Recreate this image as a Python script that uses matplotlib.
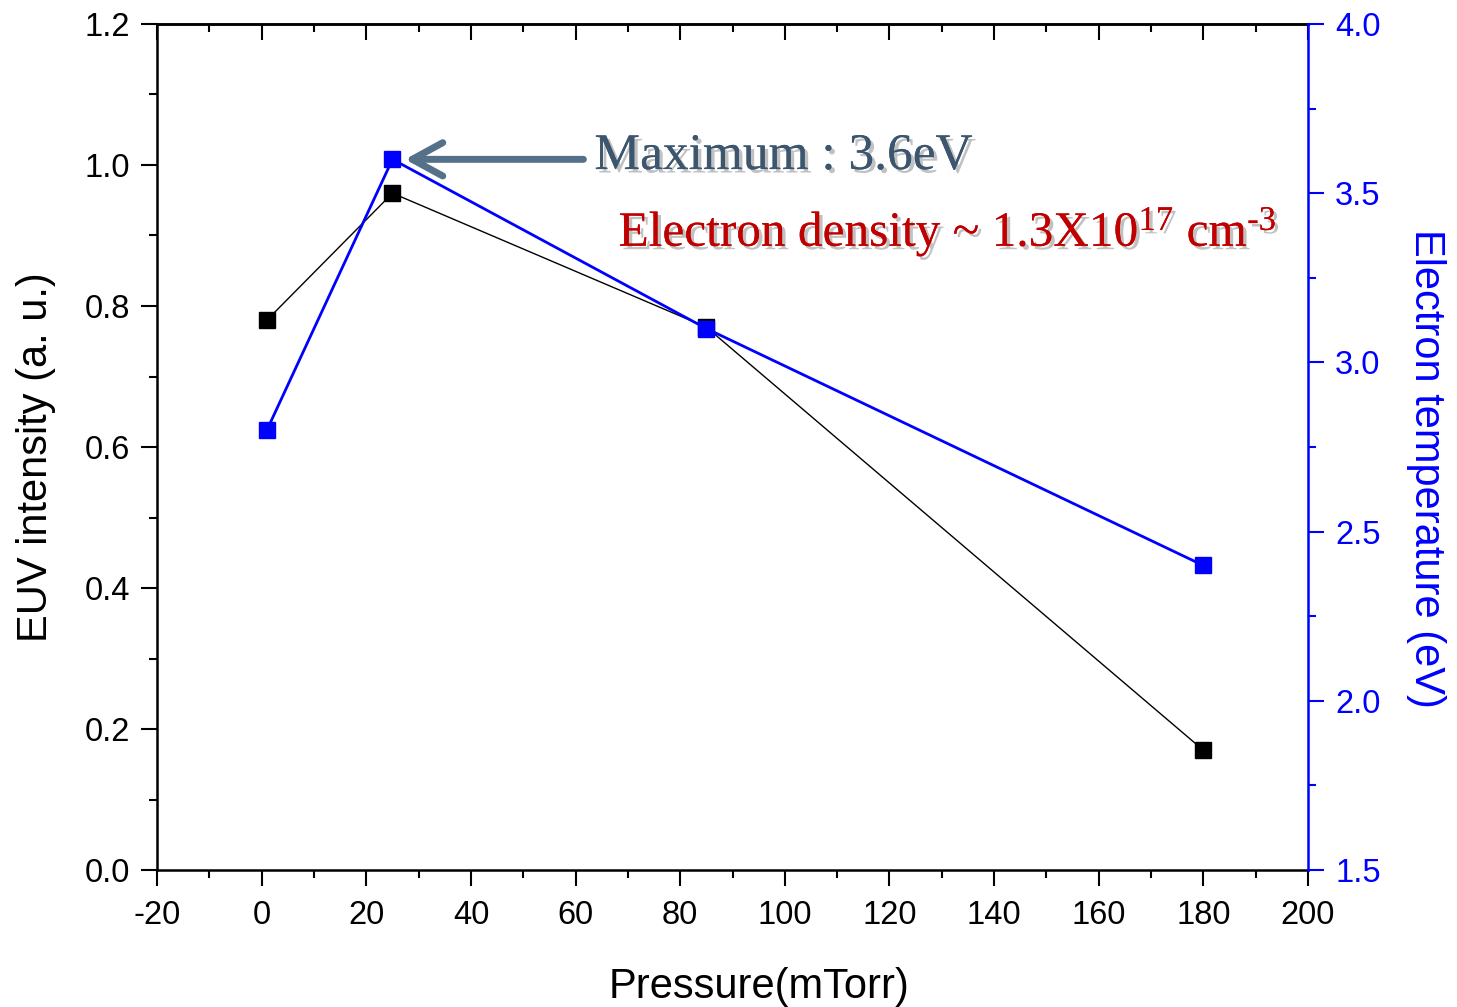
import matplotlib
matplotlib.use("Agg")
import matplotlib.pyplot as plt
import matplotlib.patheffects as pe
from matplotlib.ticker import MultipleLocator, FormatStrFormatter

pressure = [1, 25, 85, 180]
euv_intensity = [0.78, 0.96, 0.77, 0.17]
electron_temp = [2.80, 3.60, 3.10, 2.40]

plt.rcParams['font.family'] = ['Liberation Sans', 'DejaVu Sans']
plt.rcParams['axes.unicode_minus'] = False
plt.rcParams['mathtext.fontset'] = 'custom'
plt.rcParams['mathtext.rm'] = 'Liberation Serif'
plt.rcParams['mathtext.it'] = 'Liberation Serif:italic'
plt.rcParams['mathtext.bf'] = 'Liberation Serif:bold'

fig = plt.figure(figsize=(14.57, 10.07), dpi=100)
ax = fig.add_axes([0.1078, 0.1360, 0.7899, 0.8402])
ax2 = ax.twinx()

blue = '#0000ff'

ax.plot(pressure, euv_intensity, color='black', lw=1.0, marker='s', ms=11.5,
        mfc='black', mec='black', zorder=3)
ax2.plot(pressure, electron_temp, color=blue, lw=2.0, marker='s', ms=11.5,
         mfc=blue, mec=blue, zorder=3)

ax.set_xlim(-20, 200)
ax.set_ylim(0, 1.2)
ax2.set_ylim(1.5, 4.0)

ax.xaxis.set_major_locator(MultipleLocator(20))
ax.xaxis.set_minor_locator(MultipleLocator(10))
ax.yaxis.set_major_locator(MultipleLocator(0.2))
ax.yaxis.set_minor_locator(MultipleLocator(0.1))
ax2.yaxis.set_major_locator(MultipleLocator(0.5))
ax2.yaxis.set_minor_locator(MultipleLocator(0.25))

ax.yaxis.set_major_formatter(FormatStrFormatter('%.1f'))
ax2.yaxis.set_major_formatter(FormatStrFormatter('%.1f'))

lw_sp = 1.8
for s in ['left', 'bottom', 'top']:
    ax.spines[s].set_linewidth(lw_sp)
ax.spines['right'].set_visible(False)
for s in ['left', 'bottom', 'top']:
    ax2.spines[s].set_visible(False)
ax2.spines['right'].set_linewidth(lw_sp)
ax2.spines['right'].set_color(blue)

ax.tick_params(axis='both', which='major', direction='out', length=11.5, width=1.5,
               labelsize=23.5)
ax.tick_params(axis='x', which='major', pad=10)
ax.tick_params(axis='y', which='major', pad=8)
ax.tick_params(axis='both', which='minor', direction='out', length=6, width=1.5)
ax.tick_params(axis='x', top=False)
ax2.tick_params(axis='y', which='major', direction='out', length=11.5, width=1.5,
                labelsize=23.5, colors=blue, pad=8)
ax2.tick_params(axis='y', which='minor', direction='out', length=6, width=1.5, colors=blue)

sec = ax.secondary_xaxis('top')
sec.xaxis.set_major_locator(MultipleLocator(20))
sec.xaxis.set_minor_locator(MultipleLocator(10))
sec.tick_params(which='major', direction='in', length=11.5, width=1.5, labeltop=False)
sec.tick_params(which='minor', direction='in', length=6, width=1.5)
sec.spines['top'].set_linewidth(lw_sp)

ax.set_xlabel('Pressure(mTorr)', fontsize=30)
ax.xaxis.set_label_coords(0.523, -0.114)
ax.set_ylabel('EUV intensity (a. u.)', fontsize=30)
ax.yaxis.set_label_coords(-0.0876, 0.488)
ax2.set_ylabel('Electron temperature (eV)', fontsize=30, color=blue, rotation=270)
ax2.yaxis.set_label_coords(1.12, 0.475)

shadow = [pe.withSimplePatchShadow(offset=(2.5, -2.5), shadow_rgbFace='#777777', alpha=0.45),
          pe.Normal()]
serif = ['Liberation Serif', 'DejaVu Serif']

# arrow pointing to maximum
ax2.annotate('', xy=(pressure[1], electron_temp[1]), xycoords='data',
             xytext=(61.5, electron_temp[1]), textcoords='data',
             arrowprops=dict(arrowstyle='->,head_length=0.55,head_width=0.3',
                             mutation_scale=40, color='#55718a', lw=5,
                             shrinkA=0, shrinkB=9))

ax.text(0.380, 0.843, 'Maximum : 3.6eV',
        transform=ax.transAxes, fontsize=37, family=serif, color='#3b566e',
        va='center', ha='left', path_effects=shadow)

ax.text(0.401, 0.754, 'Electron density ~ 1.3X10$^{\\mathrm{17}}$ cm$^{\\mathrm{\u20103}}$',
        transform=ax.transAxes, fontsize=35.5, family=serif, color='#c00000',
        va='center', ha='left', path_effects=shadow)

fig.savefig('out.png', dpi=100)
